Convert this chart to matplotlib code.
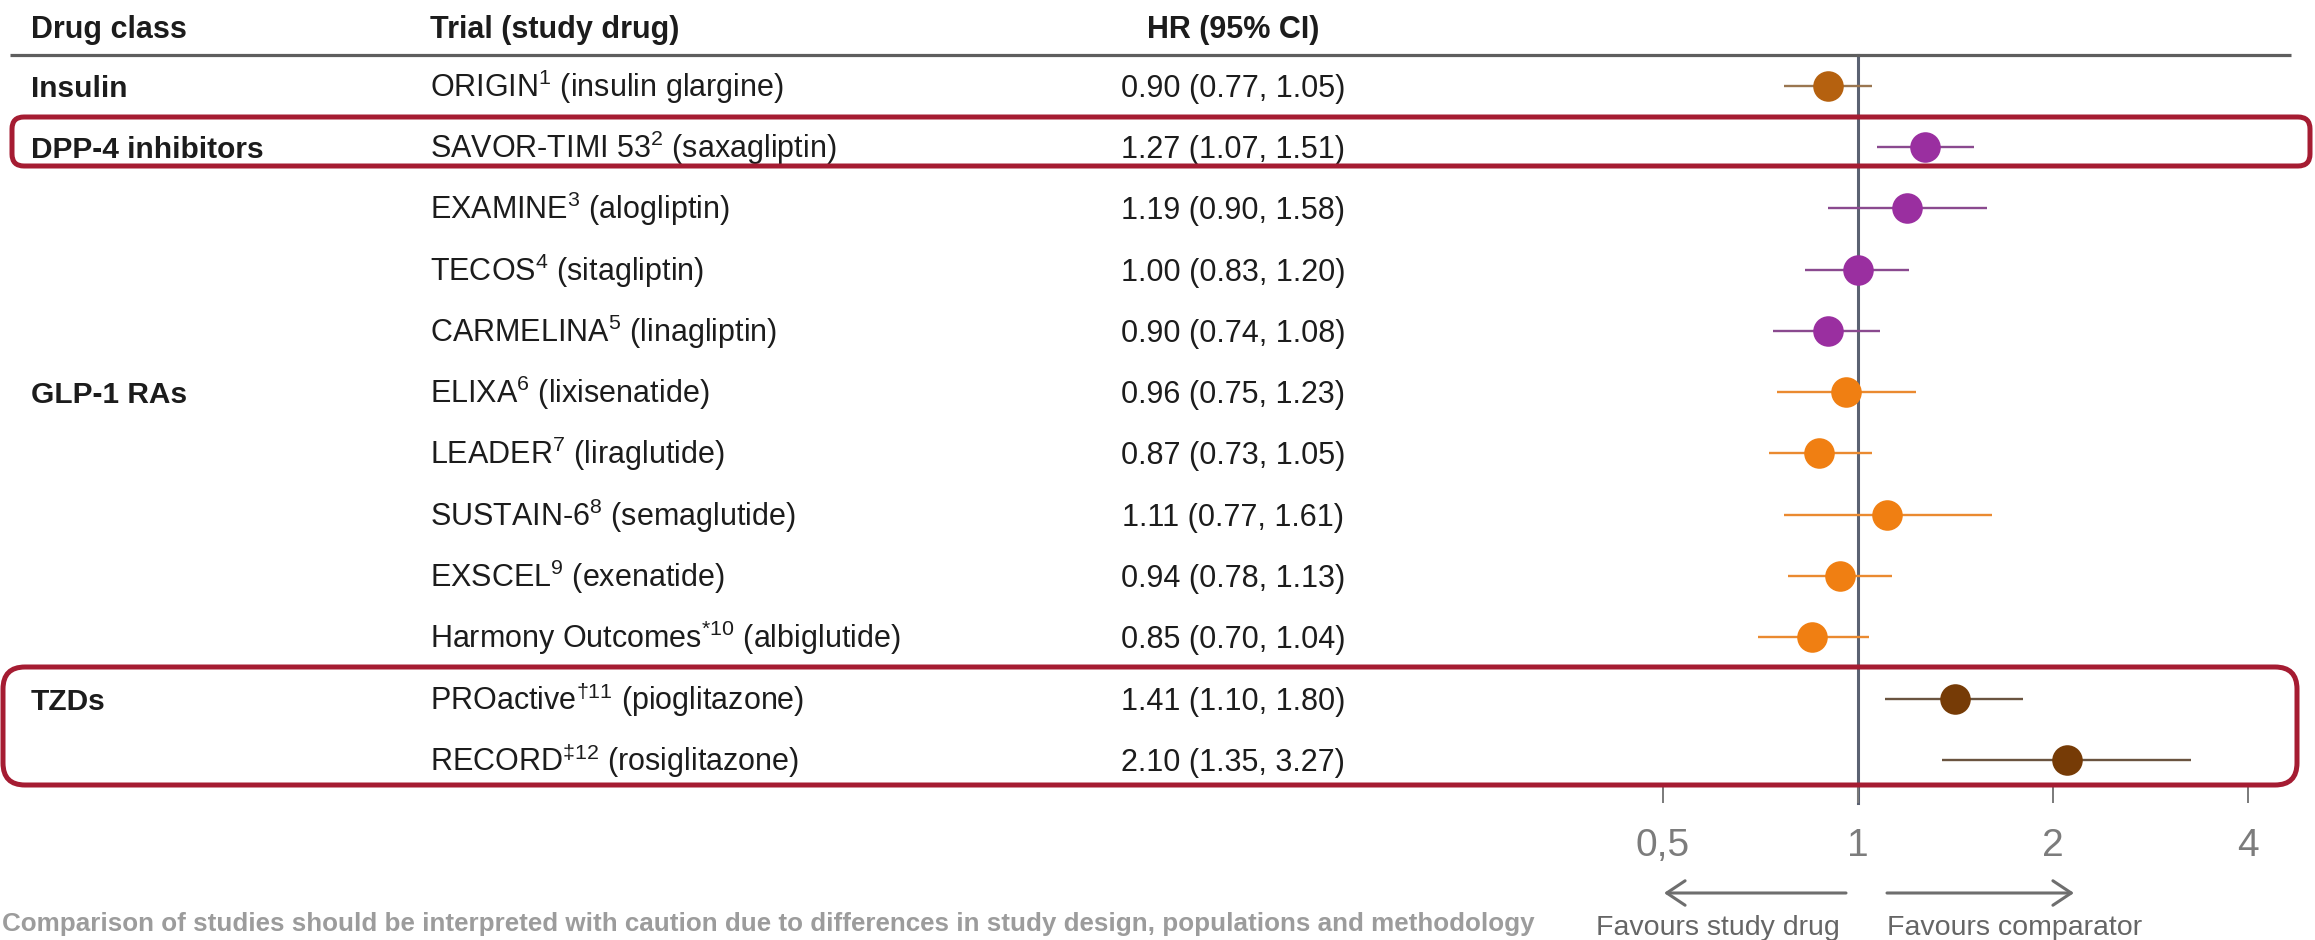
import matplotlib
matplotlib.use("Agg")
import matplotlib.pyplot as plt
from matplotlib import transforms
from matplotlib.patches import FancyBboxPatch

plt.rcParams["font.family"] = ["Liberation Sans", "DejaVu Sans"]
plt.rcParams["mathtext.fontset"] = "custom"
plt.rcParams["mathtext.rm"] = "Liberation Sans"
plt.rcParams["mathtext.it"] = "Liberation Sans:italic"
plt.rcParams["mathtext.bf"] = "Liberation Sans:bold"

# ---- data ---------------------------------------------------------------
drug_classes = ["Insulin", "DPP-4 inhibitors", "GLP-1 RAs", "TZDs"]
class_rows = [0, 1, 5, 10]

trials = [
    r"ORIGIN$^{1}$ (insulin glargine)",
    r"SAVOR-TIMI 53$^{2}$ (saxagliptin)",
    r"EXAMINE$^{3}$ (alogliptin)",
    r"TECOS$^{4}$ (sitagliptin)",
    r"CARMELINA$^{5}$ (linagliptin)",
    r"ELIXA$^{6}$ (lixisenatide)",
    r"LEADER$^{7}$ (liraglutide)",
    r"SUSTAIN-6$^{8}$ (semaglutide)",
    r"EXSCEL$^{9}$ (exenatide)",
    r"Harmony Outcomes$^{*10}$ (albiglutide)",
    r"PROactive$^{†11}$ (pioglitazone)",
    r"RECORD$^{‡12}$ (rosiglitazone)",
]
hr = [0.90, 1.27, 1.19, 1.00, 0.90, 0.96, 0.87, 1.11, 0.94, 0.85, 1.41, 2.10]
ci_low = [0.77, 1.07, 0.90, 0.83, 0.74, 0.75, 0.73, 0.77, 0.78, 0.70, 1.10, 1.35]
ci_high = [1.05, 1.51, 1.58, 1.20, 1.08, 1.23, 1.05, 1.61, 1.13, 1.04, 1.80, 3.27]
groups = ["insulin", "dpp4", "dpp4", "dpp4", "dpp4",
          "glp1", "glp1", "glp1", "glp1", "glp1", "tzd", "tzd"]

x_ticks = [0.5, 1, 2, 4]
x_ticklabels = ["0,5", "1", "2", "4"]

headers = ["Drug class", "Trial (study drug)", "HR (95% CI)"]
favour_left = "Favours study drug"
favour_right = "Favours comparator"
footnote = ("Comparison of studies should be interpreted with caution due to "
            "differences in study design, populations and methodology")

# ---- styles -------------------------------------------------------------
marker_colors = {"insulin": "#B5610F", "dpp4": "#9A2FA0",
                 "glp1": "#F07F12", "tzd": "#763B06"}
bar_colors = {"insulin": "#9A7650", "dpp4": "#8A4A8F",
              "glp1": "#EA8A30", "tzd": "#6A5440"}
box_red = "#A51C32"
grey_line = "#5E5E5E"
ref_line = "#5B6272"

W, H, DPI = 2315, 940, 100
fig = plt.figure(figsize=(W / DPI, H / DPI), dpi=DPI)
fig.patch.set_facecolor("white")

# forest-plot axes (log2 hazard-ratio scale)
px_left, px_right, px_top, px_bottom = 1560, 2300, 55, 787
fx = fig.add_axes([px_left / W, (H - px_bottom) / H,
                   (px_right - px_left) / W, (px_bottom - px_top) / H])
fx.set_zorder(1)
fx.set_xscale("log", base=2)
fx.set_xlim(0.347, 4.81)
fx.set_ylim(11.44, -0.5)
for s in fx.spines.values():
    s.set_visible(False)
fx.set_yticks([])
fx.set_xticks(x_ticks)
fx.set_xticklabels(x_ticklabels)
fx.xaxis.set_minor_locator(matplotlib.ticker.NullLocator())
fx.tick_params(axis="x", direction="out", length=11.5, width=1.4,
               color="#7A7A7A", labelsize=28, labelcolor="#7C7C7C", pad=18)
fx.patch.set_visible(False)

fx.axvline(1, ymin=-0.022, ymax=1, color=ref_line, lw=2.2,
           clip_on=False, zorder=1)

for i, (h, lo, up, g) in enumerate(zip(hr, ci_low, ci_high, groups)):
    fx.errorbar(h, i, xerr=[[h - lo], [up - h]], fmt="o", ms=22,
                mfc=marker_colors[g], mec=marker_colors[g], mew=0,
                ecolor=bar_colors[g], elinewidth=1.7, capsize=4.8,
                capthick=1.7, zorder=2)

# overlay axes in pixel coordinates for the table, boxes and notes
bg = fig.add_axes([0, 0, 1, 1])
bg.set_zorder(3)
bg.patch.set_visible(False)
bg.set_xlim(0, W)
bg.set_ylim(H, 0)
bg.axis("off")

blend = transforms.blended_transform_factory(bg.transData, fx.transData)
row_tf = transforms.offset_copy(blend, fig=fig, y=-7.9, units="points")

txt_col = "#1C1C1C"
col_class, col_trial, col_hr = 31, 430, 1233
header_base = 38

bg.text(col_class, header_base, headers[0], fontsize=22, fontweight="bold",
        color=txt_col, ha="left", va="baseline")
bg.text(col_trial, header_base, headers[1], fontsize=22, fontweight="bold",
        color=txt_col, ha="left", va="baseline")
bg.text(col_hr, header_base, headers[2], fontsize=22, fontweight="bold",
        color=txt_col, ha="center", va="baseline")
bg.plot([10, 2291], [55, 55], color=grey_line, lw=2.3, solid_capstyle="butt")

for name, r in zip(drug_classes, class_rows):
    bg.text(col_class, r, name, transform=row_tf, fontsize=21.5,
            fontweight="bold", color=txt_col, ha="left", va="baseline")

for i, (t, h, lo, up) in enumerate(zip(trials, hr, ci_low, ci_high)):
    bg.text(col_trial, i, t, transform=row_tf, fontsize=22, color=txt_col,
            ha="left", va="baseline")
    bg.text(col_hr, i, f"{h:.2f} ({lo:.2f}, {up:.2f})", transform=row_tf,
            fontsize=22, color=txt_col, ha="center", va="baseline")

# highlight boxes
bg.add_patch(FancyBboxPatch((12, 117), 2298, 49,
                            boxstyle="round,pad=0,rounding_size=12",
                            fill=False, ec=box_red, lw=3.6, zorder=5))
bg.add_patch(FancyBboxPatch((3, 667), 2294, 118,
                            boxstyle="round,pad=0,rounding_size=22",
                            fill=False, ec=box_red, lw=3.6, zorder=5))

# direction arrows and captions
arrow_kw = dict(arrowstyle="->,head_length=0.6,head_width=0.4",
                color="#6E6E6E", lw=2.2, mutation_scale=22,
                shrinkA=0, shrinkB=0)
bg.annotate("", xy=(1664, 893), xytext=(1846, 893), arrowprops=arrow_kw)
bg.annotate("", xy=(2074, 893), xytext=(1887, 893), arrowprops=arrow_kw)
bg.text(1840, 935, favour_left, fontsize=20.5, color="#666666",
        ha="right", va="baseline")
bg.text(1887, 935, favour_right, fontsize=20.5, color="#666666",
        ha="left", va="baseline")

bg.text(2, 931, footnote, fontsize=18.7, fontweight="bold",
        color="#9C9C9C", ha="left", va="baseline")

fig.savefig("out.png", dpi=DPI, facecolor="white")
